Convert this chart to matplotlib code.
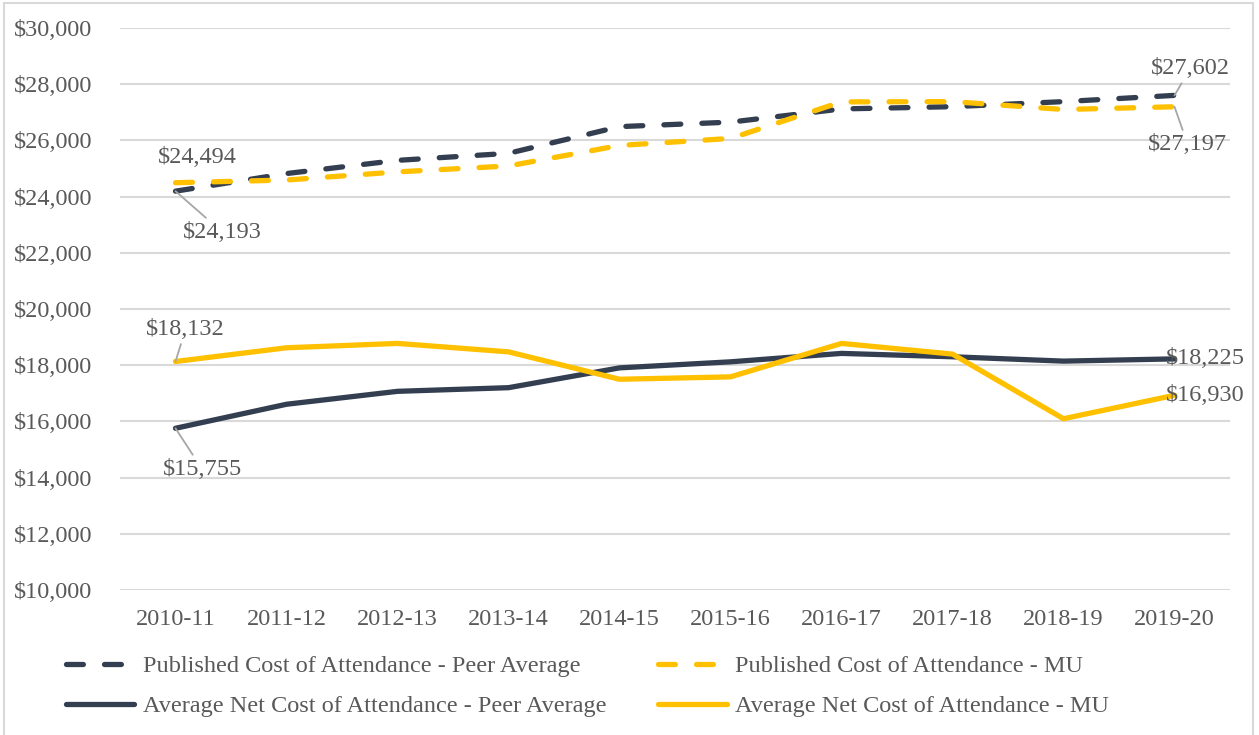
import matplotlib
matplotlib.use("Agg")
import matplotlib.pyplot as plt
from matplotlib.patches import Rectangle
from matplotlib.ticker import FuncFormatter

# academic years
years = ['2010-11', '2011-12', '2012-13', '2013-14', '2014-15',
         '2015-16', '2016-17', '2017-18', '2018-19', '2019-20']

# published cost of attendance
peer_published = [24193, 24820, 25290, 25540, 26490, 26650, 27120, 27200, 27380, 27602]
mu_published = [24494, 24590, 24880, 25090, 25820, 26070, 27370, 27380, 27100, 27197]

# average net cost of attendance
peer_net = [15755, 16610, 17070, 17200, 17905, 18120, 18420, 18300, 18145, 18225]
mu_net = [18132, 18620, 18775, 18475, 17500, 17585, 18775, 18395, 16095, 16930]

navy = '#333F50'
gold = '#FFC000'
text_gray = '#595959'
grid_gray = '#D9D9D9'

plt.rcParams['font.family'] = ['Liberation Serif', 'DejaVu Serif']
plt.rcParams['font.size'] = 17.5

fig = plt.figure(figsize=(12.59, 7.35), dpi=100)
ax = fig.add_axes([120 / 1259, 1 - 590 / 735, 1110 / 1259, 562 / 735])

x = list(range(len(years)))
lw = 3.8
dash = (3.2, 4.0)

l1, = ax.plot(x, peer_published, color=navy, lw=lw, dashes=dash,
              solid_capstyle='round', dash_capstyle='round',
              label='Published Cost of Attendance - Peer Average')
l2, = ax.plot(x, mu_published, color=gold, lw=lw, dashes=dash,
              solid_capstyle='round', dash_capstyle='round',
              label='Published Cost of Attendance - MU')
l3, = ax.plot(x, peer_net, color=navy, lw=lw, solid_capstyle='round',
              label='Average Net Cost of Attendance - Peer Average')
l4, = ax.plot(x, mu_net, color=gold, lw=lw, solid_capstyle='round',
              label='Average Net Cost of Attendance - MU')

ax.set_xlim(-0.5, 9.5)
ax.set_ylim(10000, 30000)
ax.set_yticks(range(10000, 30001, 2000))
ax.yaxis.set_major_formatter(FuncFormatter(lambda v, p: '${:,.0f}'.format(v)))
ax.set_xticks(x)
ax.set_xticklabels(years)
ax.tick_params(length=0, colors=text_gray, labelsize=17.5)
ax.tick_params(axis='y', pad=20)
ax.tick_params(axis='x', pad=14)
ax.grid(axis='y', color=grid_gray, lw=1.5)
ax.set_axisbelow(True)
for s in ax.spines.values():
    s.set_visible(False)

# data labels with leader lines
leader = dict(arrowstyle='-', color='#A6A6A6', lw=1.3, shrinkA=1, shrinkB=0)
ax.annotate('${:,}'.format(mu_published[0]), (0, mu_published[0]), xytext=(0.20, 25390),
            ha='center', va='center', color=text_gray)
ax.annotate('${:,}'.format(peer_published[0]), (0, peer_published[0]), xytext=(0.42, 22740),
            ha='center', va='center', color=text_gray, arrowprops=leader)
ax.annotate('${:,}'.format(mu_net[0]), (0, mu_net[0]), xytext=(0.09, 19270),
            ha='center', va='center', color=text_gray, arrowprops=leader)
ax.annotate('${:,}'.format(peer_net[0]), (0, peer_net[0]), xytext=(0.24, 14300),
            ha='center', va='center', color=text_gray, arrowprops=leader)
ax.annotate('${:,}'.format(peer_published[-1]), (9, peer_published[-1]), xytext=(9.14, 28550),
            ha='center', va='center', color=text_gray, arrowprops=leader)
ax.annotate('${:,}'.format(mu_published[-1]), (9, mu_published[-1]), xytext=(9.12, 25850),
            ha='center', va='center', color=text_gray, arrowprops=leader)
ax.annotate('${:,}'.format(peer_net[-1]), (9, peer_net[-1]), xytext=(9.28, peer_net[-1]),
            ha='center', va='center', color=text_gray)
ax.annotate('${:,}'.format(mu_net[-1]), (9, mu_net[-1]), xytext=(9.28, mu_net[-1]),
            ha='center', va='center', color=text_gray)

leg = fig.legend(handles=[l1, l3, l2, l4], ncol=2, loc='upper left',
                 bbox_to_anchor=(54 / 1259, 1 - 643 / 735), frameon=False,
                 handlelength=2.8, handletextpad=0.35, columnspacing=2.15,
                 labelspacing=0.75, borderpad=0, fontsize=17.5)
for t in leg.get_texts():
    t.set_color(text_gray)

# chart area border
fig.patches.append(Rectangle((4 / 1259, -0.05), 1249 / 1259, 1.05 - 3 / 735,
                             transform=fig.transFigure, fill=False,
                             edgecolor=grid_gray, lw=1.5))

fig.savefig('out.png', dpi=100)
